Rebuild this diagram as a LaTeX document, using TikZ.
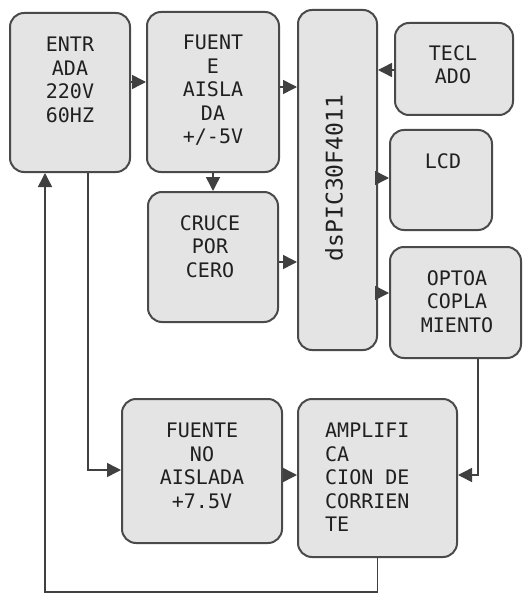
\documentclass[tikz,border=0pt]{standalone}
\usepackage{fontspec}
\newfontfamily\monof{DejaVu Sans Mono}
\usetikzlibrary{arrows.meta}
\definecolor{boxfill}{HTML}{E4E4E4}
\definecolor{boxline}{HTML}{4A4A4A}
\definecolor{txtc}{HTML}{202020}
\definecolor{linec}{HTML}{404040}
\begin{document}
\begin{tikzpicture}[x=1pt,y=-1pt,
  box/.style={draw=boxline, fill=boxfill, line width=2pt, rounded corners=14pt, inner sep=0pt},
  txt/.style={text=txtc, font={\monof\fontsize{20}{23.5}\selectfont}, align=center, inner sep=0pt, anchor=north},
  arr/.style={draw=linec, line width=1.5pt, -{Triangle[length=14pt,width=14pt]}}]
\fill[white] (0,0) rectangle (522,596);
\useasboundingbox (0,0) rectangle (522,596);
% boxes
\node[box, minimum width=120pt, minimum height=159pt] (entrada) at (70,92.5) {};
\node[box, minimum width=132pt, minimum height=160pt] (fuente) at (213,92) {};
\node[box, minimum width=130pt, minimum height=130pt] (cruce) at (213,257) {};
\node[box, minimum width=79pt, minimum height=340pt] (dspic) at (337.5,180) {};
\node[box, minimum width=118pt, minimum height=92pt] (teclado) at (454,69) {};
\node[box, minimum width=102pt, minimum height=100pt] (lcd) at (441,180) {};
\node[box, minimum width=131pt, minimum height=111pt] (opto) at (455.5,302.5) {};
\node[box, minimum width=160pt, minimum height=144pt] (fna) at (202,471) {};
\node[box, minimum width=159pt, minimum height=158pt] (amp) at (377.5,478) {};
% texts
\node[txt] (tentrada) at (70,37) {ENTR\\ADA\\220V\\60HZ};
\node[txt] (tfuente) at (213,35) {FUENT\\E\\AISLA\\DA\\+/-5V};
\node[txt] (tcruce) at (210,215) {CRUCE\\POR\\CERO};
\node[txt] (tteclado) at (453,45) {TECL\\ADO};
\node[txt] (tlcd) at (443,153) {LCD};
\node[txt] (topto) at (457,270) {OPTOA\\COPLA\\MIENTO};
\node[txt] (tfna) at (202,423) {FUENTE\\NO\\AISLADA\\+7.5V};
\node[txt, align=left, anchor=north west] (tamp) at (325,423) {AMPLIFI\\CA\\CION DE\\CORRIEN\\TE};
\node[text=txtc, font={\monof\fontsize{23}{26}\selectfont}, rotate=90, inner sep=0pt] (tdspic) at (334,178) {dsPIC30F4011};
% connectors
\coordinate (c1) at (88,470);
\coordinate (c2) at (478,475);
\coordinate (c4) at (45,592);
\draw[arr] (entrada.east |- 0,82) -- (fuente.west |- 0,82);
\draw[arr] (fuente.east |- 0,87) -- (dspic.west |- 0,87);
\draw[arr] (fuente.south) -- (cruce.north);
\draw[arr] (cruce.east |- 0,262) -- (dspic.west |- 0,262);
\draw[arr] (teclado.west |- 0,70) -- (dspic.east |- 0,70);
\draw[arr] (dspic.east |- 0,178) -- (lcd.west |- 0,178);
\draw[arr] (dspic.east |- 0,293) -- (opto.west |- 0,293);
\draw[arr] (entrada.south -| c1) -- (c1) -- (fna.west |- c1);
\draw[arr] (fna.east |- 0,475) -- (amp.west |- 0,475);
\draw[arr] (opto.south -| c2) -- (c2) -- (amp.east |- c2);
\draw[arr] (amp.south) -- (amp.south |- c4) -- (c4) -- (entrada.south -| c4);
\end{tikzpicture}
\end{document}
